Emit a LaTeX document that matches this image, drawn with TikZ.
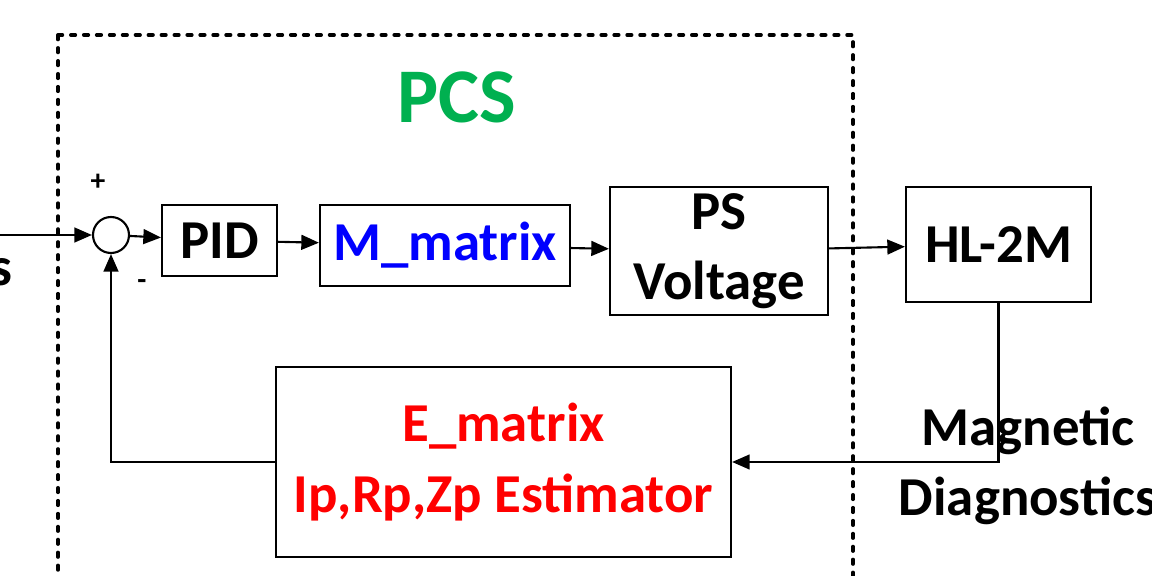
\documentclass[tikz,border=0pt]{standalone}
\usepackage{fontspec}
\setmainfont{Carlito}
\usetikzlibrary{arrows.meta,calc,positioning}
\definecolor{pcsGreen}{HTML}{00B050}
\definecolor{matBlue}{HTML}{0000FF}
\definecolor{estRed}{HTML}{FF0000}

\begin{document}
\begin{tikzpicture}[x=0.025cm,y=-0.025cm,
    blk/.style={draw,line width=1.5pt,inner sep=0pt,align=center,font=\fontsize{39}{50}\selectfont\bfseries},
    lbl/.style={inner sep=0pt,align=center,font=\fontsize{39}{50}\selectfont\bfseries},
    sgn/.style={inner sep=0pt,font=\fontsize{21}{25}\selectfont\bfseries},
    conn/.style={line width=1.5pt,-{Triangle[length=12.5pt,width=10.5pt]}}]
  \useasboundingbox (0,0) rectangle (1152,576);
  % PCS frame
  \draw[line width=2.6pt,line cap=round,dash pattern=on 3.2pt off 6pt] (58,35) rectangle (853,620);
  \node[inner sep=0pt,font=\fontsize{55}{66}\selectfont\bfseries,text=pcsGreen] (pcs) at (457,97) {PCS};
  % forward path
  \node[lbl,anchor=east] (ref) at (13,272) {s};
  \coordinate (in) at (0,235);
  \node[draw,circle,line width=1.5pt,minimum size=0.9cm,inner sep=0pt] (sum) at (111,235) {};
  \node[sgn] (plus) at (98,182) {+};
  \node[sgn] (minus) at (142,285) {-};
  \node[blk,minimum width=2.875cm,minimum height=1.775cm] (pid) at (219.5,240.5) {PID};
  \node[blk,minimum width=6.25cm,minimum height=2.025cm,text=matBlue] (mmat) at (445,245.5) {M\_matrix};
  \node[blk,minimum width=5.45cm,minimum height=3.2cm] (psv) at (719,251) {PS\\Voltage};
  \node[blk,minimum width=4.625cm,minimum height=2.875cm] (hl) at (998.5,244.5) {HL-2M};
  % feedback path
  \node[blk,minimum width=11.375cm,minimum height=4.75cm,text=estRed] (est) at (503.5,462) {E\_matrix\\Ip,Rp,Zp Estimator};
  \node[lbl] (diag) at (1028,466) {Magnetic\\Diagnostics};
  \draw[conn] (in) -- (sum);
  \draw[conn] (sum) -- (pid);
  \draw[conn] (pid) -- (mmat);
  \draw[conn] (mmat) -- (psv);
  \draw[conn] (psv) -- (hl);
  \draw[conn] (hl.south) |- (est.east);
  \draw[conn] (est.west) -| (sum.south);
\end{tikzpicture}
\end{document}
